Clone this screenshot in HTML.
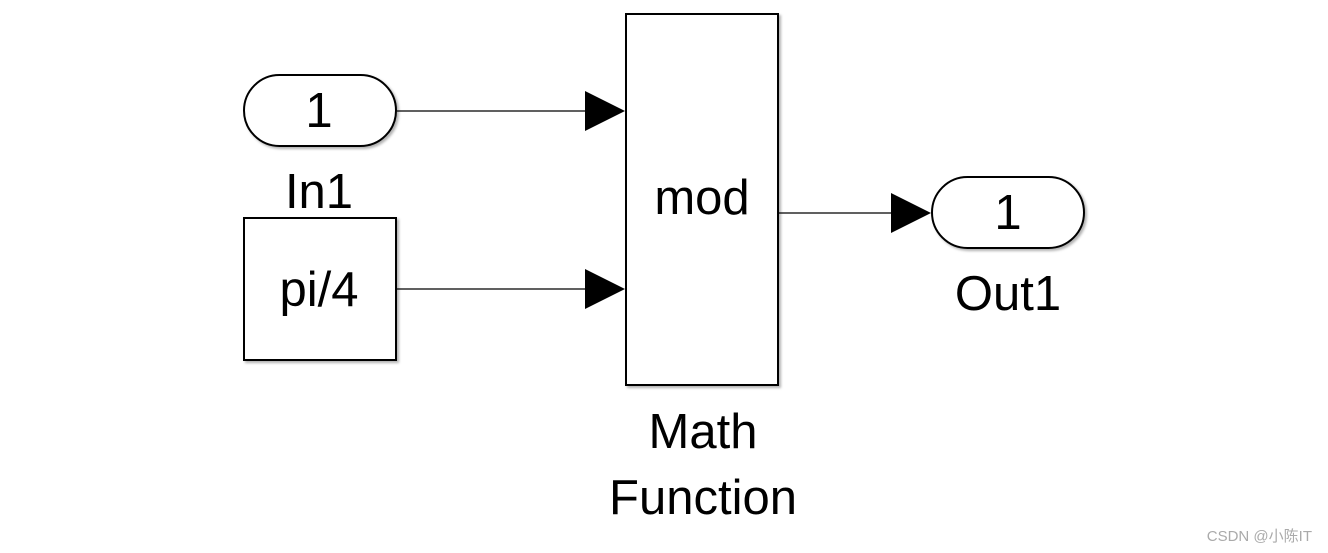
<!DOCTYPE html>
<html><head><meta charset="utf-8"><style>
html,body{margin:0;padding:0;background:#fff;width:1328px;height:553px;overflow:hidden}
</style></head><body>
<svg width="1328" height="553" xmlns="http://www.w3.org/2000/svg" font-family="Liberation Sans, sans-serif">
<defs><filter id="s" x="-10%" y="-10%" width="130%" height="130%"><feDropShadow dx="2" dy="2" stdDeviation="1.2" flood-color="#000" flood-opacity="0.3"/></filter></defs>
<g fill="#fff" stroke="#000" stroke-width="2" filter="url(#s)">
<rect x="244" y="75" width="152" height="71" rx="35.5"/>
<rect x="244" y="218" width="152" height="142"/>
<rect x="626" y="14" width="152" height="371"/>
<rect x="932" y="177" width="152" height="71" rx="35.5"/>
</g>
<g stroke="#000" stroke-width="1.2">
<line x1="397" y1="111" x2="588" y2="111"/>
<line x1="397" y1="289" x2="588" y2="289"/>
<line x1="779" y1="213" x2="893" y2="213"/>
</g>
<g fill="#000">
<polygon points="585,91 625,111 585,131"/>
<polygon points="585,269 625,289 585,309"/>
<polygon points="891,193 931,213 891,233"/>
</g>
<g font-size="49" text-anchor="middle" fill="#000">
<text x="319" y="127">1</text>
<text x="319" y="208">In1</text>
<text x="319" y="306">pi/4</text>
<text x="702" y="214">mod</text>
<text x="1008" y="229">1</text>
<text x="1008" y="310">Out1</text>
<text x="703" y="448">Math</text>
<text x="703" y="514">Function</text>
</g>
<text x="1312" y="541" font-size="15" text-anchor="end" fill="#aaa" font-family="Liberation Sans, Noto Sans CJK SC, sans-serif">CSDN @小陈IT</text>
</svg>
</body></html>
